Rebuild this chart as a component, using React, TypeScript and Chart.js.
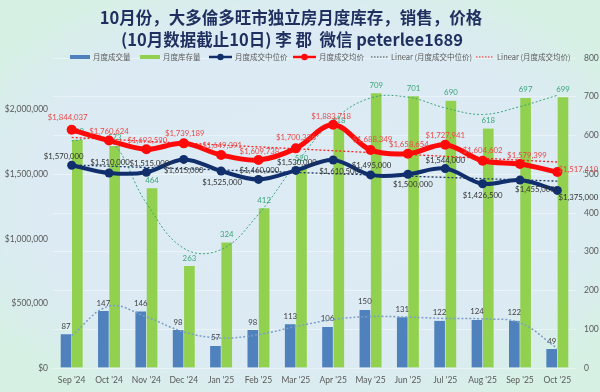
import React, { useEffect, useRef } from "react";
import { Chart, registerables } from "chart.js";

Chart.register(...registerables);

// ---------------- DATA ----------------
const categories = [
  "Sep '24", "Oct '24", "Nov '24", "Dec '24", "Jan '25", "Feb '25", "Mar '25",
  "Apr '25", "May '25", "Jun '25", "Jul '25", "Aug '25", "Sep '25", "Oct '25",
];
const salesCount = [87, 147, 146, 98, 57, 98, 113, 106, 150, 131, 122, 124, 122, 49];
const inventory = [589, 573, 464, 263, 324, 412, 520, 618, 709, 701, 690, 618, 697, 699];
const medianPrice = [
  1570000, 1510000, 1515000, 1615000, 1525000, 1460000, 1530000,
  1610500, 1495000, 1500000, 1544000, 1426500, 1455000, 1375000,
];
const averagePrice = [
  1844037, 1760624, 1693590, 1739189, 1649391, 1609738, 1700336,
  1883718, 1688349, 1658654, 1727941, 1604602, 1579399, 1517410,
];
const leftAxisTicks = [0, 500000, 1000000, 1500000, 2000000];
const leftAxisMax = 2400000;
const rightAxisMax = 800;
const rightAxisStep = 100;

const titleLines = [
  "10月份，大多倫多旺市独立房月度库存，销售，价格",
  "(10月数据截止10日) 李 郡  微信 peterlee1689",
];
const legendLabels = [
  "月度成交量",
  "月度库存量",
  "月度成交中位价",
  "月度成交均价",
  "Linear (月度成交中位价)",
  "Linear (月度成交均价)",
];

// label placement offsets (layout only)
const medianLabelOffsets = [
  [-8, -9], [1, -10], [3, -9], [0, 11], [1, 11], [1, -9], [1, -8],
  [6, 11], [1, -9], [5, 10], [0, -8], [0, 12], [15, 9], [21, 7],
];
const averageLabelOffsets = [
  [-4, -12], [0, -9], [1, -9], [1, -10], [1, -9], [1, -9], [0, -11],
  [-2, -8], [2, -10], [1, -9], [0, -9], [0, -10], [7, -9], [21, -3],
];

const INVENTORY_TREND_ORDER = 6;
const SALES_TREND_ORDER = 6;

// ---------------- HELPERS ----------------
function fitPolynomial(ys: number[], order: number) {
  const n = ys.length;
  const c = (n - 1) / 2;
  const ts = ys.map((_, i) => (i - c) / c);
  const m = order + 1;
  const A: number[][] = Array.from({ length: m }, () => new Array(m + 1).fill(0));
  for (let i = 0; i < n; i++) {
    const pw: number[] = [];
    let p = 1;
    for (let k = 0; k < 2 * m; k++) {
      pw.push(p);
      p *= ts[i];
    }
    for (let r = 0; r < m; r++) {
      for (let s = 0; s < m; s++) A[r][s] += pw[r + s];
      A[r][m] += pw[r] * ys[i];
    }
  }
  for (let col = 0; col < m; col++) {
    let piv = col;
    for (let r = col + 1; r < m; r++) if (Math.abs(A[r][col]) > Math.abs(A[piv][col])) piv = r;
    const tmp = A[col];
    A[col] = A[piv];
    A[piv] = tmp;
    for (let r = 0; r < m; r++) {
      if (r === col) continue;
      const f = A[r][col] / A[col][col];
      for (let s = col; s <= m; s++) A[r][s] -= f * A[col][s];
    }
  }
  const coef = A.map((row, i) => row[m] / row[i]);
  return (x: number) => {
    const t = (x - c) / c;
    let v = 0;
    for (let k = m - 1; k >= 0; k--) v = v * t + coef[k];
    return v;
  };
}

const money = (v: number) => "$" + Math.round(v).toLocaleString("en-US");

const LATIN = 'Lato, "Noto Sans", sans-serif';
const CJK = '"Noto Sans CJK SC", "Noto Sans", sans-serif';

const COLORS = {
  blueBar: "#4f81bd",
  greenBar: "#92d050",
  navy: "#102f6c",
  red: "#ff0a0a",
  greenTrend: "#3ea47c",
  blueTrend: "#7c9ec8",
  navyTrend: "#1f3864",
  redTrend: "#ff2020",
  axisText: "#595959",
  title: "#1f2f5f",
};

const BAR_THICKNESS = 11.3;

// ---------------- PLUGINS ----------------
// place the two bar series side by side around each category centre
const barSidePlugin = {
  id: "barSide",
  afterDatasetsUpdate(chart: any) {
    chart.data.datasets.forEach((ds: any, di: number) => {
      if (ds._side === undefined) return;
      const meta = chart.getDatasetMeta(di);
      meta.data.forEach((el: any) => {
        el.x = el.x + (ds._side * BAR_THICKNESS) / 2;
      });
    });
  },
};

const labelPlugin = {
  id: "customLabels",
  afterDatasetDraw(chart: any, args: any) {
    const ds = chart.data.datasets[args.index];
    if (!ds._barLabels) return;
    const ctx = chart.ctx;
    const meta = args.meta;
    ctx.save();
    ctx.font = `7.8px ${LATIN}`;
    ctx.fillStyle = ds._labelColor;
    ctx.textAlign = "center";
    ctx.textBaseline = "middle";
    meta.data.forEach((el: any, i: number) => {
      ctx.fillText(String(ds.data[i]), el.x, el.y - 8);
    });
    ctx.restore();
  },
  afterDatasetsDraw(chart: any) {
    const ctx = chart.ctx;
    chart.data.datasets.forEach((ds: any, di: number) => {
      if (!ds._lineLabels) return;
      const meta = chart.getDatasetMeta(di);
      ctx.save();
      ctx.font = `7.8px ${LATIN}`;
      ctx.fillStyle = ds._labelColor;
      ctx.textAlign = "center";
      ctx.textBaseline = "middle";
      meta.data.forEach((el: any, i: number) => {
        const off = ds._offsets[i];
        ctx.fillText(money(ds.data[i]), el.x + off[0], el.y + off[1]);
      });
      ctx.restore();
    });
  },
};

const decorPlugin = {
  id: "decor",
  afterDraw(chart: any) {
    const ctx = chart.ctx;
    ctx.save();
    // left axis labels
    const ys = chart.scales.y;
    ctx.font = `8.5px ${LATIN}`;
    ctx.fillStyle = COLORS.axisText;
    ctx.textAlign = "right";
    ctx.textBaseline = "middle";
    leftAxisTicks.forEach((v) => {
      ctx.fillText(money(v), chart.chartArea.left - 5, ys.getPixelForValue(v));
    });

    // title
    ctx.fillStyle = COLORS.title;
    ctx.textAlign = "center";
    ctx.font = `bold 16.5px ${CJK}`;
    ctx.fillText(titleLines[0], 291, 18);
    ctx.fillText(titleLines[1], 292, 40);

    // legend
    const y = 57;
    ctx.font = `7.5px ${CJK}`;
    ctx.textAlign = "left";
    const text = (s: string, x: number) => {
      ctx.fillStyle = COLORS.axisText;
      ctx.fillText(s, x, y);
    };
    ctx.fillStyle = COLORS.blueBar;
    ctx.fillRect(70, y - 2, 20, 4);
    text(legendLabels[0], 93);
    ctx.fillStyle = COLORS.greenBar;
    ctx.fillRect(140, y - 2, 20, 4);
    text(legendLabels[1], 163);
    const lineSwatch = (x0: number, x1: number, color: string, w: number, r: number) => {
      ctx.strokeStyle = color;
      ctx.lineWidth = w;
      ctx.setLineDash([]);
      ctx.beginPath();
      ctx.moveTo(x0, y);
      ctx.lineTo(x1, y);
      ctx.stroke();
      ctx.fillStyle = color;
      ctx.beginPath();
      ctx.arc((x0 + x1) / 2, y, r, 0, Math.PI * 2);
      ctx.fill();
    };
    lineSwatch(209, 232, COLORS.navy, 2.5, 3.2);
    text(legendLabels[2], 235);
    lineSwatch(293, 316, COLORS.red, 2.5, 3.2);
    text(legendLabels[3], 319);
    const dotted = (x0: number, x1: number, color: string) => {
      ctx.strokeStyle = color;
      ctx.lineWidth = 1;
      ctx.setLineDash([1.5, 1.5]);
      ctx.beginPath();
      ctx.moveTo(x0, y);
      ctx.lineTo(x1, y);
      ctx.stroke();
      ctx.setLineDash([]);
    };
    dotted(371, 388, "#404040");
    text(legendLabels[4], 391);
    dotted(476, 494, COLORS.redTrend);
    text(legendLabels[5], 497);
    ctx.restore();
  },
};

// ---------------- COMPONENT ----------------
export default function App() {
  const canvasRef = useRef<HTMLCanvasElement | null>(null);

  useEffect(() => {
    if (!canvasRef.current) return;
    const invFit = fitPolynomial(inventory, INVENTORY_TREND_ORDER);
    const salesFit = fitPolynomial(salesCount, SALES_TREND_ORDER);
    const medLin = fitPolynomial(medianPrice, 1);
    const avgLin = fitPolynomial(averagePrice, 1);
    const invTrend = categories.map((_, i) => invFit(i));
    const salesTrend = categories.map((_, i) => salesFit(i));
    const medTrend = categories.map((_, i) => medLin(i));
    const avgTrend = categories.map((_, i) => avgLin(i));

    const barCommon = {
      type: "bar",
      yAxisID: "y1",
      xAxisID: "x",
      grouped: false,
      barThickness: BAR_THICKNESS,
      borderWidth: { left: 0.65, right: 0.65, top: 0, bottom: 0 },
      borderColor: "rgba(0,0,0,0)",
      borderSkipped: false,
      _barLabels: true,
    };
    const trendCommon = {
      type: "line",
      xAxisID: "x",
      pointRadius: 0,
      fill: false,
    };

    const chart = new Chart(canvasRef.current, {
      type: "bar",
      data: {
        labels: categories,
        datasets: [
          {
            ...barCommon,
            label: legendLabels[0],
            data: salesCount,
            backgroundColor: COLORS.blueBar,
            order: 19,
            _side: -1,
            _labelColor: "#404040",
          } as any,
          {
            ...barCommon,
            label: legendLabels[1],
            data: inventory,
            backgroundColor: COLORS.greenBar,
            order: 20,
            _side: 1,
            _labelColor: "#3ea47c",
          } as any,
          {
            ...trendCommon,
            label: "poly inventory",
            data: invTrend,
            yAxisID: "y1",
            borderColor: COLORS.greenTrend,
            borderWidth: 1,
            borderDash: [2, 2],
            tension: 0.4,
            order: 10,
          } as any,
          {
            ...trendCommon,
            label: "poly sales",
            data: salesTrend,
            yAxisID: "y1",
            borderColor: COLORS.blueTrend,
            borderWidth: 1.5,
            borderDash: [2, 2],
            tension: 0.4,
            order: 9,
          } as any,
          {
            ...trendCommon,
            label: legendLabels[4],
            data: medTrend,
            yAxisID: "y",
            borderColor: COLORS.navyTrend,
            borderWidth: 1.3,
            borderDash: [2, 2],
            tension: 0,
            order: 8,
          } as any,
          {
            ...trendCommon,
            label: legendLabels[5],
            data: avgTrend,
            yAxisID: "y",
            borderColor: COLORS.redTrend,
            borderWidth: 1.3,
            borderDash: [2, 2],
            tension: 0,
            order: 7,
          } as any,
          {
            type: "line",
            label: legendLabels[2],
            data: medianPrice,
            xAxisID: "x",
            yAxisID: "y",
            borderColor: COLORS.navy,
            backgroundColor: COLORS.navy,
            borderWidth: 4,
            pointRadius: 4.5,
            pointBorderWidth: 0,
            pointBackgroundColor: COLORS.navy,
            tension: 0.35,
            fill: false,
            order: 2,
            _lineLabels: true,
            _offsets: medianLabelOffsets,
            _labelColor: "#333333",
          } as any,
          {
            type: "line",
            label: legendLabels[3],
            data: averagePrice,
            xAxisID: "x",
            yAxisID: "y",
            borderColor: COLORS.red,
            backgroundColor: COLORS.red,
            borderWidth: 5,
            pointRadius: 5,
            pointBorderWidth: 0,
            pointBackgroundColor: COLORS.red,
            tension: 0.35,
            fill: false,
            order: 1,
            _lineLabels: true,
            _offsets: averageLabelOffsets,
            _labelColor: "#e84a4a",
          } as any,
        ],
      },
      options: {
        responsive: false,
        animation: false,
        devicePixelRatio: 1,
        layout: { padding: { top: 58, left: 0, right: 0, bottom: 0 } },
        plugins: {
          legend: { display: false },
          title: { display: false },
          tooltip: { enabled: false },
        },
        scales: {
          x: {
            type: "category",
            offset: true,
            grid: { display: false, drawTicks: false },
            border: { display: false },
            ticks: {
              color: COLORS.axisText,
              font: { family: LATIN, size: 8.5 },
              padding: 7,
              maxRotation: 0,
              autoSkip: false,
            },
            afterFit: (s: any) => {
              s.height = 24;
            },
          },
          y: {
            type: "linear",
            position: "left",
            min: 0,
            max: leftAxisMax,
            grid: { display: false, drawTicks: false },
            border: { display: false },
            ticks: { display: false },
            afterFit: (s: any) => {
              s.width = 53;
            },
          },
          y1: {
            type: "linear",
            position: "right",
            min: 0,
            max: rightAxisMax,
            grid: { display: true, drawTicks: false, color: "rgba(255,255,255,0.4)", lineWidth: 1 },
            border: { display: false },
            ticks: {
              stepSize: rightAxisStep,
              autoSkip: false,
              color: COLORS.axisText,
              font: { family: LATIN, size: 8.5 },
              padding: 8,
            },
            afterFit: (s: any) => {
              s.width = 24;
            },
          },
        },
      } as any,
      plugins: [barSidePlugin, labelPlugin, decorPlugin],
    });
    return () => chart.destroy();
  }, []);

  return (
    <div
      style={{
        position: "absolute",
        left: 0,
        top: 0,
        width: 600,
        height: 392,
        background:
          "radial-gradient(ellipse 62% 60% at 50% 50%, #dcebf4 0%, #dcebf3 72%, #d9edec 88%, #d6f1e4 100%)",
      }}
    >
      <canvas ref={canvasRef} width={600} height={392} style={{ display: "block" }} />
    </div>
  );
}
